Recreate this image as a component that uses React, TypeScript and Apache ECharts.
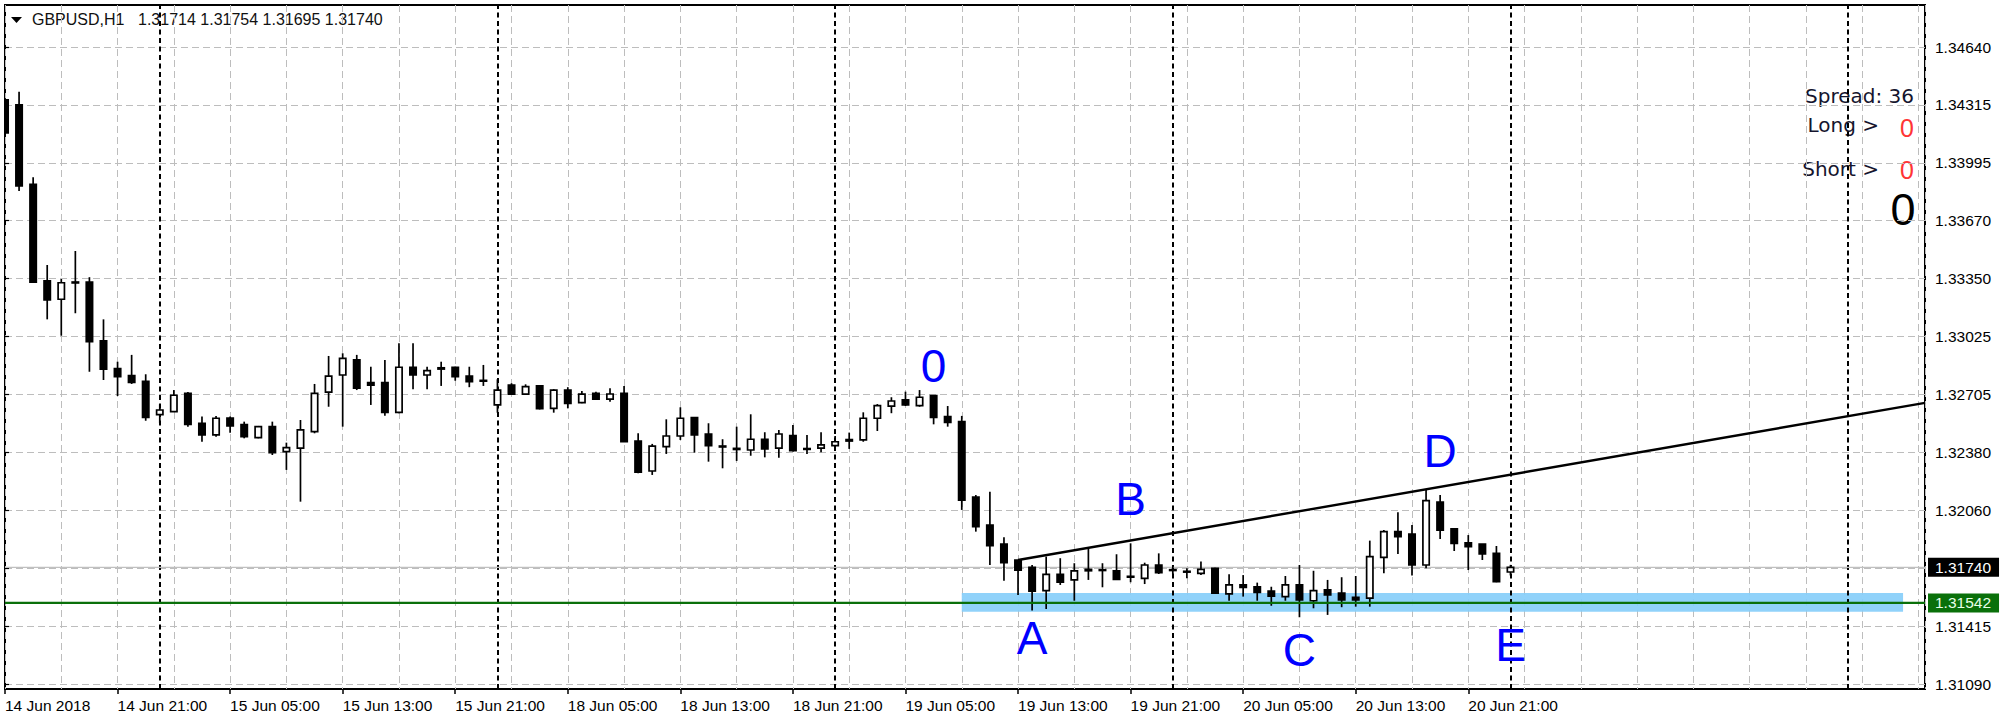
import React, { useEffect, useRef } from 'react';
import * as echarts from 'echarts';

// ---- GBPUSD H1 bars, index 0 = 14 Jun 2018 13:00 ----
const barOpen = [
  1.34345, 1.34317, 1.33875, 1.33336, 1.33234, 1.33330, 1.33329, 1.33002, 1.32847, 1.32808,
  1.32777, 1.32591, 1.32608, 1.32710, 1.32543, 1.32478, 1.32572, 1.32535, 1.32463, 1.32524,
  1.32385, 1.32404, 1.32496, 1.32716, 1.32812, 1.32896, 1.32769, 1.32769, 1.32604, 1.32855,
  1.32812, 1.32845, 1.32855, 1.32806, 1.32782, 1.32645, 1.32756, 1.32705, 1.32751, 1.32626,
  1.32728, 1.32658, 1.32710, 1.32677, 1.32710, 1.32444, 1.32277, 1.32413, 1.32472, 1.32574,
  1.32483, 1.32416, 1.32403, 1.32394, 1.32454, 1.32404, 1.32474, 1.32402, 1.32404, 1.32418,
  1.32444, 1.32450, 1.32571, 1.32639, 1.32673, 1.32641, 1.32697, 1.32580, 1.32552, 1.32131,
  1.31976, 1.31869, 1.31781, 1.31740, 1.31610, 1.31701, 1.31670, 1.31721, 1.31727, 1.31720,
  1.31690, 1.31679, 1.31753, 1.31727, 1.31718, 1.31707, 1.31735, 1.31592, 1.31642, 1.31632,
  1.31608, 1.31577, 1.31642, 1.31554, 1.31614, 1.31596, 1.31573, 1.31568, 1.31796, 1.31939,
  1.31926, 1.31753, 1.32103, 1.31954, 1.31877, 1.31869, 1.31818, 1.31714,
];
const barHigh = [
  1.34356, 1.34391, 1.33914, 1.33425, 1.33347, 1.33503, 1.33357, 1.33122, 1.32886, 1.32924,
  1.32816, 1.32649, 1.32728, 1.32717, 1.32580, 1.32584, 1.32580, 1.32552, 1.32528, 1.32552,
  1.32435, 1.32561, 1.32762, 1.32918, 1.32933, 1.32924, 1.32858, 1.32896, 1.32989, 1.32989,
  1.32858, 1.32886, 1.32858, 1.32858, 1.32868, 1.32788, 1.32766, 1.32760, 1.32756, 1.32733,
  1.32744, 1.32723, 1.32719, 1.32738, 1.32751, 1.32487, 1.32428, 1.32565, 1.32632, 1.32574,
  1.32543, 1.32454, 1.32524, 1.32593, 1.32493, 1.32506, 1.32533, 1.32478, 1.32493, 1.32472,
  1.32491, 1.32604, 1.32650, 1.32688, 1.32719, 1.32728, 1.32697, 1.32639, 1.32584, 1.32143,
  1.32162, 1.31908, 1.31781, 1.31753, 1.31800, 1.31791, 1.31763, 1.31846, 1.31763, 1.31813,
  1.31874, 1.31766, 1.31818, 1.31753, 1.31735, 1.31772, 1.31738, 1.31701, 1.31697, 1.31655,
  1.31632, 1.31692, 1.31753, 1.31721, 1.31670, 1.31685, 1.31692, 1.31889, 1.31948, 1.32047,
  1.31976, 1.32175, 1.32143, 1.31954, 1.31920, 1.31869, 1.31859, 1.31754,
];
const barLow = [
  1.34155, 1.33837, 1.33325, 1.33122, 1.33031, 1.33156, 1.32830, 1.32784, 1.32695, 1.32762,
  1.32557, 1.32543, 1.32606, 1.32524, 1.32440, 1.32468, 1.32490, 1.32459, 1.32459, 1.32366,
  1.32283, 1.32106, 1.32487, 1.32635, 1.32524, 1.32728, 1.32645, 1.32585, 1.32599, 1.32732,
  1.32732, 1.32751, 1.32780, 1.32744, 1.32751, 1.32602, 1.32701, 1.32701, 1.32620, 1.32602,
  1.32626, 1.32654, 1.32673, 1.32663, 1.32438, 1.32264, 1.32255, 1.32372, 1.32450, 1.32379,
  1.32329, 1.32292, 1.32333, 1.32362, 1.32353, 1.32351, 1.32385, 1.32372, 1.32381, 1.32394,
  1.32400, 1.32440, 1.32500, 1.32599, 1.32639, 1.32635, 1.32537, 1.32524, 1.32060, 1.31939,
  1.31753, 1.31666, 1.31586, 1.31499, 1.31508, 1.31642, 1.31554, 1.31670, 1.31629, 1.31670,
  1.31657, 1.31647, 1.31703, 1.31703, 1.31679, 1.31697, 1.31592, 1.31554, 1.31577, 1.31554,
  1.31526, 1.31554, 1.31462, 1.31512, 1.31475, 1.31518, 1.31521, 1.31521, 1.31707, 1.31815,
  1.31694, 1.31735, 1.31898, 1.31831, 1.31725, 1.31781, 1.31657, 1.31695,
];
const barClose = [
  1.34161, 1.33865, 1.33329, 1.33230, 1.33326, 1.33325, 1.32998, 1.32844, 1.32803, 1.32771,
  1.32576, 1.32617, 1.32699, 1.32537, 1.32478, 1.32571, 1.32528, 1.32468, 1.32524, 1.32379,
  1.32407, 1.32506, 1.32710, 1.32806, 1.32905, 1.32738, 1.32755, 1.32604, 1.32855, 1.32812,
  1.32836, 1.32852, 1.32803, 1.32775, 1.32778, 1.32728, 1.32705, 1.32747, 1.32624, 1.32728,
  1.32654, 1.32705, 1.32677, 1.32706, 1.32440, 1.32270, 1.32416, 1.32472, 1.32571, 1.32478,
  1.32418, 1.32411, 1.32397, 1.32454, 1.32400, 1.32483, 1.32390, 1.32398, 1.32422, 1.32440,
  1.32452, 1.32571, 1.32641, 1.32667, 1.32645, 1.32688, 1.32576, 1.32548, 1.32115, 1.31967,
  1.31861, 1.31766, 1.31725, 1.31608, 1.31701, 1.31657, 1.31720, 1.31729, 1.31723, 1.31673,
  1.31686, 1.31753, 1.31710, 1.31723, 1.31714, 1.31729, 1.31596, 1.31642, 1.31629, 1.31601,
  1.31580, 1.31642, 1.31558, 1.31610, 1.31586, 1.31558, 1.31558, 1.31800, 1.31939, 1.31911,
  1.31753, 1.32112, 1.31948, 1.31874, 1.31855, 1.31815, 1.31660, 1.31740,
];

const xTickLabels = [
  '14 Jun 2018', '14 Jun 21:00', '15 Jun 05:00', '15 Jun 13:00', '15 Jun 21:00',
  '18 Jun 05:00', '18 Jun 13:00', '18 Jun 21:00', '19 Jun 05:00', '19 Jun 13:00',
  '19 Jun 21:00', '20 Jun 05:00', '20 Jun 13:00', '20 Jun 21:00',
];
// price grid labels, bottom to top (the third one sits under the bid label)
const yTickLabels = [
  '1.31090', '1.31415', '', '1.32060', '1.32380', '1.32705',
  '1.33025', '1.33350', '1.33670', '1.33995', '1.34315', '1.34640',
];
const daySeparators = [11, 35, 59, 83, 107, 131];
const trendAnchors = [[72, 1.31781], [101, 1.32175]];
const supportLevel = 1.31542;
const zoneBars = [68, 134.9];
const zonePrices = [1.31597, 1.31492];
const waveLabels = [
  { bar: 66, price: 1.3286, text: '0' },
  { bar: 73, price: 1.31347, text: 'A' },
  { bar: 80, price: 1.32121, text: 'B' },
  { bar: 92, price: 1.3128, text: 'C' },
  { bar: 102, price: 1.32386, text: 'D' },
  { bar: 107, price: 1.31305, text: 'E' },
];
const symbolName = 'GBPUSD,H1';
const spreadValue = 36;
const longCount = 0;
const shortCount = 0;
const totalCount = 0;

const Y_MIN = 1.3109;
const Y_STEP = 0.003227;
const Y_MAX = Number((Y_MIN + 11 * Y_STEP).toFixed(6));
const VISIBLE_BARS = 1920 / 14.07;
const FONT = 'Liberation Sans, Arial, sans-serif';

export default function App() {
  const ref = useRef<HTMLDivElement>(null);

  useEffect(() => {
    if (!ref.current) return;
    const chart = echarts.init(ref.current, undefined, { renderer: 'svg' });
    const last = barClose.length - 1;
    const ohlcText = [barOpen[last], barHigh[last], barLow[last], barClose[last]]
      .map((v) => v.toFixed(5))
      .join(' ');
    const bid = barClose[last];
    const slope = (trendAnchors[1][1] - trendAnchors[0][1]) / (trendAnchors[1][0] - trendAnchors[0][0]);
    const trendEnd = trendAnchors[0][1] + slope * (VISIBLE_BARS - trendAnchors[0][0]);
    const candleData = barOpen.map((o, i) => [i, o, barClose[i], barLow[i], barHigh[i]]);

    const gridLine = { color: '#bdbdbd', type: [7, 4] as number[], width: 1 };
    const priceTag = (bg: string, fg: string) => ({
      show: true, distance: 3, backgroundColor: bg, color: fg, padding: [2, 8, 1, 7],
      fontSize: 15.5, fontFamily: FONT,
      formatter: (p: any) => Number(p.value[1]).toFixed(5),
    });

    const option: any = {
      animation: false,
      backgroundColor: '#ffffff',
      textStyle: { fontFamily: FONT },
      grid: [
        { left: 5, top: 5, width: 1920, height: 684, show: true, borderColor: '#000', borderWidth: 2, backgroundColor: 'transparent' },
        { left: 5, top: 47, width: 1920, height: 637 },
        { left: 5, top: 5, width: (104 * 1920) / VISIBLE_BARS, height: 684 },
      ],
      xAxis: [
        {
          gridIndex: 0, type: 'value', min: 0, max: VISIBLE_BARS, interval: 4,
          splitLine: { show: true, lineStyle: gridLine },
          axisLine: { show: false }, axisTick: { show: false }, axisLabel: { show: false },
        },
        { gridIndex: 1, type: 'value', min: 0, max: VISIBLE_BARS, show: false },
        {
          gridIndex: 2, type: 'value', min: 0, max: 104, interval: 8, position: 'bottom',
          splitLine: { show: false }, axisLine: { show: false },
          axisTick: { show: true, length: 5, lineStyle: { color: '#000', width: 1.5 } },
          axisLabel: {
            show: true, align: 'left', margin: 8, fontSize: 15.5, color: '#000', fontFamily: FONT,
            showMinLabel: true, showMaxLabel: true,
            formatter: (v: number) => xTickLabels[Math.round(v / 8)] || '',
          },
        },
      ],
      yAxis: [
        { gridIndex: 0, type: 'value', min: 0, max: 1, show: false },
        {
          gridIndex: 1, type: 'value', min: Y_MIN, max: Y_MAX, interval: Y_STEP, position: 'right',
          splitLine: { show: true, lineStyle: gridLine },
          axisLine: { show: false },
          axisTick: { show: true, length: 4, lineStyle: { color: '#000', width: 1.2 } },
          axisLabel: {
            show: true, margin: 10, fontSize: 15.5, color: '#000', fontFamily: FONT,
            showMinLabel: true, showMaxLabel: true,
            formatter: (v: number) => yTickLabels[Math.round((v - Y_MIN) / Y_STEP)] || '',
          },
        },
        { gridIndex: 2, type: 'value', min: 0, max: 1, show: false },
      ],
      series: [
        {
          type: 'line', xAxisIndex: 0, yAxisIndex: 0, data: [[0, 0.5]], symbol: 'none',
          lineStyle: { opacity: 0 }, silent: true, z: 1,
          markLine: {
            silent: true, symbol: ['none', 'none'], z: 1, label: { show: false },
            lineStyle: { color: '#000', type: [5, 3.5], width: 2 },
            data: daySeparators.map((b) => ({ xAxis: b })),
          },
        },
        {
          type: 'line', xAxisIndex: 1, yAxisIndex: 1, data: [[0, bid]], symbol: 'none',
          lineStyle: { opacity: 0 }, silent: true, z: 1,
          markArea: {
            silent: true, z: 1,
            itemStyle: { color: '#87cefa', opacity: 0.92 },
            data: [[{ xAxis: zoneBars[0], yAxis: zonePrices[0] }, { xAxis: zoneBars[1], yAxis: zonePrices[1] }]],
          },
        },
        {
          name: 'bid', type: 'line', xAxisIndex: 1, yAxisIndex: 1, symbol: 'none', silent: true, z: 2,
          clip: false,
          lineStyle: { color: '#c0c0c0', width: 1.2 },
          data: [[0, bid], [VISIBLE_BARS, bid]],
          endLabel: priceTag('#000', '#fff'),
        },
        {
          type: 'custom', xAxisIndex: 1, yAxisIndex: 1, clip: true, z: 3,
          encode: { x: 0, y: [1, 2, 3, 4] },
          data: candleData,
          renderItem: (params: any, api: any) => {
            const i = api.value(0);
            const o = api.value(1);
            const c = api.value(2);
            const pO = api.coord([i, o]);
            const pC = api.coord([i, c]);
            const pL = api.coord([i, api.value(3)]);
            const pH = api.coord([i, api.value(4)]);
            const w = api.size([1, 0])[0] * 0.45;
            const top = Math.min(pO[1], pC[1]);
            const bot = Math.max(pO[1], pC[1]);
            const bull = c > o;
            return {
              type: 'group',
              children: [
                { type: 'line', shape: { x1: pO[0], y1: pH[1], x2: pO[0], y2: pL[1] }, style: { stroke: '#000', lineWidth: 1.7 } },
                {
                  type: 'rect',
                  shape: { x: pO[0] - w / 2, y: top, width: w, height: Math.max(bot - top, 0.8) },
                  style: { fill: bull ? '#fff' : '#000', stroke: '#000', lineWidth: 1.7 },
                },
              ],
            };
          },
        },
        {
          name: 'support', type: 'line', xAxisIndex: 1, yAxisIndex: 1, symbol: 'none', silent: true, z: 4,
          clip: false,
          lineStyle: { color: '#0a700a', width: 2.2 },
          data: [[0, supportLevel], [VISIBLE_BARS, supportLevel]],
          endLabel: priceTag('#0a700a', '#e8ffe8'),
        },
        {
          name: 'trend', type: 'line', xAxisIndex: 1, yAxisIndex: 1, symbol: 'none', silent: true, z: 4,
          lineStyle: { color: '#000', width: 2.4 },
          data: [trendAnchors[0], [VISIBLE_BARS, trendEnd]],
        },
        {
          type: 'custom', xAxisIndex: 1, yAxisIndex: 1, clip: false, z: 5, silent: true,
          data: waveLabels.map((w) => [w.bar, w.price]),
          renderItem: (params: any, api: any) => {
            const p = api.coord([api.value(0), api.value(1)]);
            return {
              type: 'text', x: p[0], y: p[1],
              style: {
                text: waveLabels[params.dataIndex].text, fontSize: 46, fontFamily: FONT,
                fill: '#0000ff', align: 'center', verticalAlign: 'middle',
              },
            };
          },
        },
      ],
      graphic: [
        { type: 'polygon', shape: { points: [[11, 17], [22, 17], [16.5, 23]] }, style: { fill: '#000' } },
        { type: 'text', x: 32, y: 19, style: { text: symbolName, fontSize: 16, fontFamily: FONT, fill: '#111', verticalAlign: 'middle' } },
        { type: 'text', x: 138, y: 19, style: { text: ohlcText, fontSize: 16, fontFamily: FONT, fill: '#111', verticalAlign: 'middle' } },
        { type: 'text', x: 1914, y: 96, style: { text: `Spread: ${spreadValue}`, fontSize: 20, fontFamily: 'DejaVu Sans', fill: '#15152e', align: 'right', verticalAlign: 'middle' } },
        { type: 'text', x: 1879, y: 125, style: { text: 'Long >', fontSize: 20, fontFamily: 'DejaVu Sans', fill: '#15152e', align: 'right', verticalAlign: 'middle' } },
        { type: 'text', x: 1907, y: 128, style: { text: String(longCount), fontSize: 25, fontFamily: FONT, fill: '#ff3535', align: 'center', verticalAlign: 'middle' } },
        { type: 'text', x: 1879, y: 169, style: { text: 'Short >', fontSize: 20, fontFamily: 'DejaVu Sans', fill: '#15152e', align: 'right', verticalAlign: 'middle' } },
        { type: 'text', x: 1907, y: 170, style: { text: String(shortCount), fontSize: 25, fontFamily: FONT, fill: '#ff3535', align: 'center', verticalAlign: 'middle' } },
        { type: 'text', x: 1903, y: 209, style: { text: String(totalCount), fontSize: 45, fontFamily: FONT, fill: '#000', align: 'center', verticalAlign: 'middle' } },
      ],
    };

    chart.setOption(option);
    return () => chart.dispose();
  }, []);

  return (
    <div
      ref={ref}
      style={{ position: 'absolute', left: 0, top: 0, width: 2000, height: 725, background: '#fff' }}
    />
  );
}
